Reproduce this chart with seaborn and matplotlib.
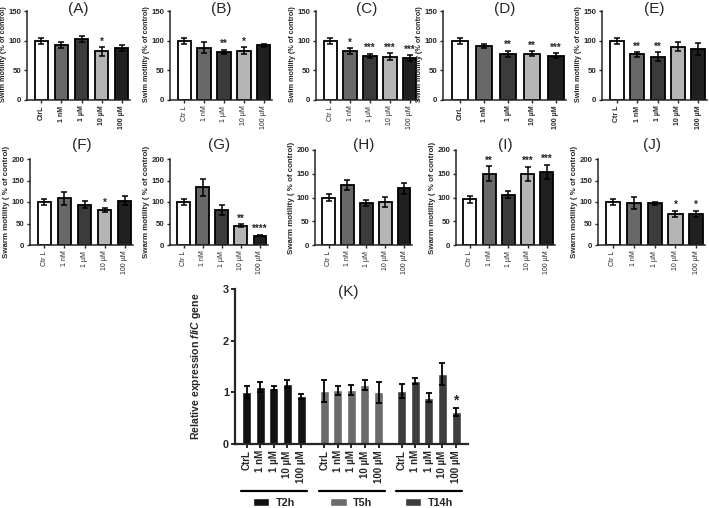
import numpy as np
import pandas as pd
import matplotlib
matplotlib.use('Agg')
import matplotlib.pyplot as plt
import matplotlib.transforms as mtransforms
from matplotlib.legend import Legend
import seaborn as sns

sns.set_style('ticks')
plt.rcParams['font.family'] = ['Liberation Sans', 'DejaVu Sans']
plt.rcParams['mathtext.fontset'] = 'custom'
plt.rcParams['mathtext.bf'] = 'Liberation Sans:bold'
plt.rcParams['mathtext.it'] = 'Liberation Sans:italic'
plt.rcParams['mathtext.bfit'] = 'Liberation Sans:italic:bold'

# ---- data ----
conc_A = ['CtrL', '1 nM', '1 µM', '10 µM', '100 µM']
conc_B = ['Ctr L', '1 nM', '1 µM', '10 µM', '100 µM']
bar_colors = ['#ffffff', '#686868', '#3b3b3b', '#b5b5b5', '#202020']

swim_A = [100, 93, 103, 82, 87]
swim_A_sem = [5, 5, 5, 7, 5]
swim_A_sig = ['', '', '', '*', '']

swim_B = [100, 88, 81, 83, 92]
swim_B_sem = [5, 9, 4, 6, 3]
swim_B_sig = ['', '', '**', '*', '']

swim_C = [100, 82, 74, 73, 71]
swim_C_sem = [5, 5, 4, 6, 5]
swim_C_sig = ['', '*', '***', '***', '***']

swim_D = [100, 91, 78, 78, 75]
swim_D_sem = [5, 4, 5, 4, 4]
swim_D_sig = ['', '', '**', '**', '***']

swim_E = [100, 77, 73, 90, 86]
swim_E_sem = [5, 4, 8, 8, 10]
swim_E_sig = ['', '**', '**', '', '']

swarm_F = [100, 109, 94, 81, 103]
swarm_F_sem = [7, 15, 8, 5, 10]
swarm_F_sig = ['', '', '', '*', '']

swarm_G = [100, 134, 81, 45, 22]
swarm_G_sem = [7, 19, 12, 4, 2]
swarm_G_sig = ['', '', '', '**', '****']

swarm_H = [100, 126, 89, 91, 119]
swarm_H_sem = [7, 11, 6, 10, 11]
swarm_H_sig = ['', '', '', '', '']

swarm_I = [96, 150, 106, 150, 154]
swarm_I_sem = [7, 16, 7, 15, 15]
swarm_I_sig = ['', '**', '', '***', '***']

swarm_J = [100, 97, 97, 73, 72]
swarm_J_sem = [7, 14, 4, 7, 8]
swarm_J_sig = ['', '', '', '*', '*']

k_times = ['T2h', 'T5h', 'T14h']
k_conc = ['CtrL', '1 nM', '1 µM', '10 µM', '100 µM']
k_colors = ['#111111', '#6b6b6b', '#3d3d3d']
flic_T2h = [1.01, 1.10, 1.08, 1.16, 0.92]
flic_T2h_sem = [0.12, 0.10, 0.04, 0.08, 0.04]
flic_T5h = [1.03, 1.04, 1.04, 1.14, 1.00]
flic_T5h_sem = [0.21, 0.09, 0.10, 0.09, 0.20]
flic_T14h = [1.03, 1.22, 0.90, 1.35, 0.62]
flic_T14h_sem = [0.14, 0.05, 0.09, 0.21, 0.07]
flic_T14h_sig = ['', '', '', '', '*']

W, H = 709, 508
fig = plt.figure(figsize=(W / 100, H / 100), dpi=100)


def px_axes(left, right, top, bottom):
    return fig.add_axes([left / W, 1 - bottom / H, (right - left) / W, (bottom - top) / H])


def motility_panel(ax, vals, sem, sig, labels, ymax, ylabel, title, title_y, bold,
                   label_size=5.7, label_y=0.5):
    sns.barplot(x=labels, y=vals, hue=labels, palette=bar_colors, legend=False,
                edgecolor='black', linewidth=1.3, width=0.68, ax=ax)
    ax.errorbar(range(len(vals)), vals, yerr=sem, fmt='none', ecolor='black',
                elinewidth=1.1, capsize=2.4, capthick=1.1)
    for i, (v, e, s) in enumerate(zip(vals, sem, sig)):
        if s:
            ax.text(i, v + e + ymax * 0.005, s, ha='center', va='bottom',
                    fontsize=7, fontweight='bold')
    ax.set_ylim(0, ymax)
    ax.set_yticks(np.arange(0, ymax + 1, 50))
    ax.set_xlim(-0.72, 4.42)
    sns.despine(ax=ax)
    for sp in ['left', 'bottom']:
        ax.spines[sp].set_linewidth(1.1)
    ax.tick_params(width=1.0, length=2.5, pad=1.5)
    ax.tick_params(axis='y', labelsize=5.6)
    for t in ax.get_yticklabels():
        t.set_fontweight('bold')
    ax.tick_params(axis='x', labelsize=5, rotation=90)
    for t in ax.get_xticklabels():
        t.set_fontweight('bold' if bold else 'normal')
    ax.set_xlabel('')
    ax.set_ylabel(ylabel, fontsize=label_size, fontweight='bold')
    w_px = ax.get_position().width * W
    ax.yaxis.set_label_coords(-20 / w_px, label_y)
    pos = ax.get_position()
    fig.text(pos.x0 + pos.width / 2, 1 - title_y / H, title, ha='center', va='center', fontsize=11)


swim_label = 'Swim motility (% of control)'
swarm_label = 'Swarm motility ( % of control)'

top_axes = [(27, 130), (170, 272), (316, 418), (443, 566), (602, 707)]
top_data = [(swim_A, swim_A_sem, swim_A_sig, conc_A, '(A)', True),
            (swim_B, swim_B_sem, swim_B_sig, conc_B, '(B)', False),
            (swim_C, swim_C_sem, swim_C_sig, conc_B, '(C)', False),
            (swim_D, swim_D_sem, swim_D_sig, conc_A, '(D)', True),
            (swim_E, swim_E_sem, swim_E_sig, conc_B, '(E)', True)]
for (l, r), (v, e, s, lab, ttl, b) in zip(top_axes, top_data):
    ax = px_axes(l, r, 11, 100)
    motility_panel(ax, v, e, s, lab, 150, swim_label, ttl, 8.5, b,
                   label_size=5.25, label_y=0.52)

bot_axes = [(30, 133, 159), (170, 268, 159), (315, 412, 150), (456, 555, 150), (598, 705, 159)]
bot_data = [(swarm_F, swarm_F_sem, swarm_F_sig, '(F)'),
            (swarm_G, swarm_G_sem, swarm_G_sig, '(G)'),
            (swarm_H, swarm_H_sem, swarm_H_sig, '(H)'),
            (swarm_I, swarm_I_sem, swarm_I_sig, '(I)'),
            (swarm_J, swarm_J_sem, swarm_J_sig, '(J)')]
for (l, r, t), (v, e, s, ttl) in zip(bot_axes, bot_data):
    ax = px_axes(l, r, t, 245)
    motility_panel(ax, v, e, s, conc_B, 200, swarm_label, ttl, 145, False)

# ---- panel K ----
gap = 0.7
rows = []
for g, (tm, vals, sem) in enumerate(zip(k_times, [flic_T2h, flic_T5h, flic_T14h],
                                        [flic_T2h_sem, flic_T5h_sem, flic_T14h_sem])):
    for i, c in enumerate(k_conc):
        rows.append({'time': tm, 'conc': c, 'pos': g * (len(k_conc) + gap) + i,
                     'val': vals[i], 'sem': sem[i]})
kdf = pd.DataFrame(rows)

axk = px_axes(235, 468, 289, 444)
sns.barplot(data=kdf, x='pos', y='val', hue='time', hue_order=k_times, palette=k_colors,
            native_scale=True, dodge=False, width=0.66, ax=axk)
axk.errorbar(kdf['pos'], kdf['val'], yerr=kdf['sem'], fmt='none', ecolor='black',
             elinewidth=1.3, capsize=2.5, capthick=1.3)
last = kdf[kdf['time'] == 'T14h']
for p, v, e, s in zip(last['pos'], last['val'], last['sem'], flic_T14h_sig):
    if s:
        axk.text(p, v + e + 0.02, s, ha='center', va='bottom', fontsize=10, fontweight='bold')

handles, labels = axk.get_legend_handles_labels()
axk.get_legend().remove()
axk.set_ylim(0, 3)
axk.set_yticks([0, 1, 2, 3])
axk.set_xlim(-0.86, kdf['pos'].max() + 0.88)
axk.set_xticks(kdf['pos'])
axk.set_xticklabels(kdf['conc'], rotation=90, fontsize=7, fontweight='bold')
for t in axk.get_yticklabels():
    t.set_fontweight('bold')
axk.tick_params(axis='y', labelsize=7.8, width=1.4, length=3, pad=1.5)
axk.tick_params(axis='x', width=1.4, length=3, pad=1.5)
sns.despine(ax=axk)
for sp in ['left', 'bottom']:
    axk.spines[sp].set_linewidth(1.6)
axk.set_xlabel('')
axk.set_ylabel(r'Relative expression $\mathbfit{fliC}$ gene', fontsize=7.6, fontweight='bold')
axk.yaxis.set_label_coords(-32 / (233), 0.5)

blend = mtransforms.blended_transform_factory(axk.transData, axk.transAxes)
for g, (tm, h) in enumerate(zip(k_times, handles)):
    grp = kdf[kdf['time'] == tm]['pos']
    axk.plot([grp.min() - 0.4, grp.max() + 0.45], [-0.303, -0.303], transform=blend,
             clip_on=False, color='black', lw=1.6)
    leg = Legend(axk, [h], [tm], loc='center', bbox_to_anchor=(grp.mean(), -0.38),
                 bbox_transform=blend, frameon=False, handlelength=1.5, handleheight=0.65,
                 handletextpad=0.6, prop={'size': 7.8, 'weight': 'bold'})
    axk.add_artist(leg)

fig.text(348 / W, 1 - 292 / H, '(K)', ha='center', va='center', fontsize=11)

fig.savefig('out.png', dpi=100)
